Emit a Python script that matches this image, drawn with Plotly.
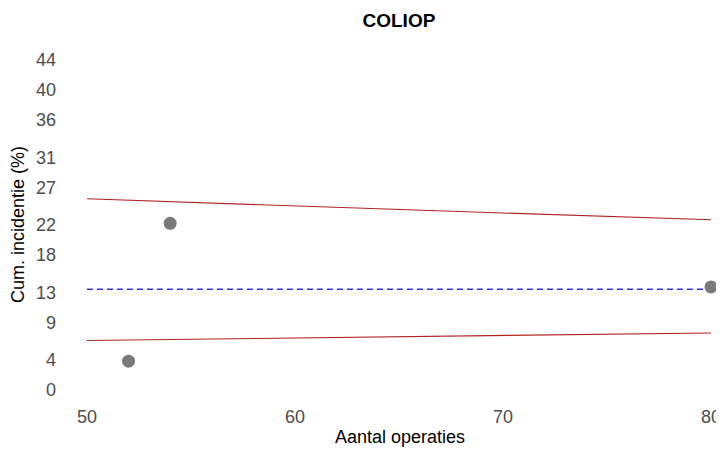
import plotly.graph_objects as go

# ziekenhuizen: aantal operaties en cumulatieve incidentie (%)
operaties = [52, 54, 80]
incidentie = [3.85, 22.22, 13.75]

# gemiddelde en controlegrenzen
gemiddelde = 13.44
grens_x = [50, 60, 70, 80]
bovengrens = [25.5, 24.5, 23.6, 22.7]
ondergrens = [6.6, 6.95, 7.3, 7.6]

y_ticks = [0, 4, 9, 13, 18, 22, 27, 31, 36, 40, 44]
x_ticks = [50, 60, 70, 80]

fig = go.Figure()

fig.add_trace(go.Scatter(x=grens_x, y=bovengrens, mode='lines',
                         line=dict(color='#b22222', width=1.2), hoverinfo='skip'))
fig.add_trace(go.Scatter(x=grens_x, y=ondergrens, mode='lines',
                         line=dict(color='#b22222', width=1.2), hoverinfo='skip'))
fig.add_trace(go.Scatter(x=[grens_x[0], grens_x[-1]], y=[gemiddelde, gemiddelde], mode='lines',
                         line=dict(color='#3333ee', width=1.5, dash='6px,4px')))
fig.add_trace(go.Scatter(x=operaties, y=incidentie, mode='markers', cliponaxis=False,
                         marker=dict(color='#7a7a7a', size=13)))

tick_font = dict(size=18, color='#4d4d4d')
titel_font = dict(size=18, color='black')

# pagina heeft 8px marge, daarom 716x442
fig.update_layout(
    width=716, height=442,
    showlegend=False,
    plot_bgcolor='white', paper_bgcolor='white',
    margin=dict(l=49, r=2, t=37, b=50),
    font=dict(family='Arial, Liberation Sans, sans-serif'),
    title=dict(text='<b>COLIOP</b>', x=0.546, xanchor='center', y=0.973, yanchor='middle',
               font=dict(size=19, color='black')),
    xaxis=dict(range=[48.56, 80.53], tickvals=x_ticks, showgrid=False, zeroline=False,
               showline=False, tickfont=tick_font, automargin=False, ticklabelstandoff=4),
    yaxis=dict(range=[-1.33, 46], tickvals=y_ticks, showgrid=False, zeroline=False,
               showline=False, tickfont=tick_font, automargin=False),
    annotations=[
        dict(text='Aantal operaties', xref='paper', yref='paper', x=0.516, y=0,
             xanchor='center', yanchor='middle', yshift=-37, showarrow=False, font=titel_font),
        dict(text='Cum. incidentie (%)', xref='paper', yref='paper', x=0, y=0.493,
             xanchor='center', yanchor='middle', xshift=-39, textangle=-90,
             showarrow=False, font=titel_font),
    ],
)

fig.write_html("out.html")
